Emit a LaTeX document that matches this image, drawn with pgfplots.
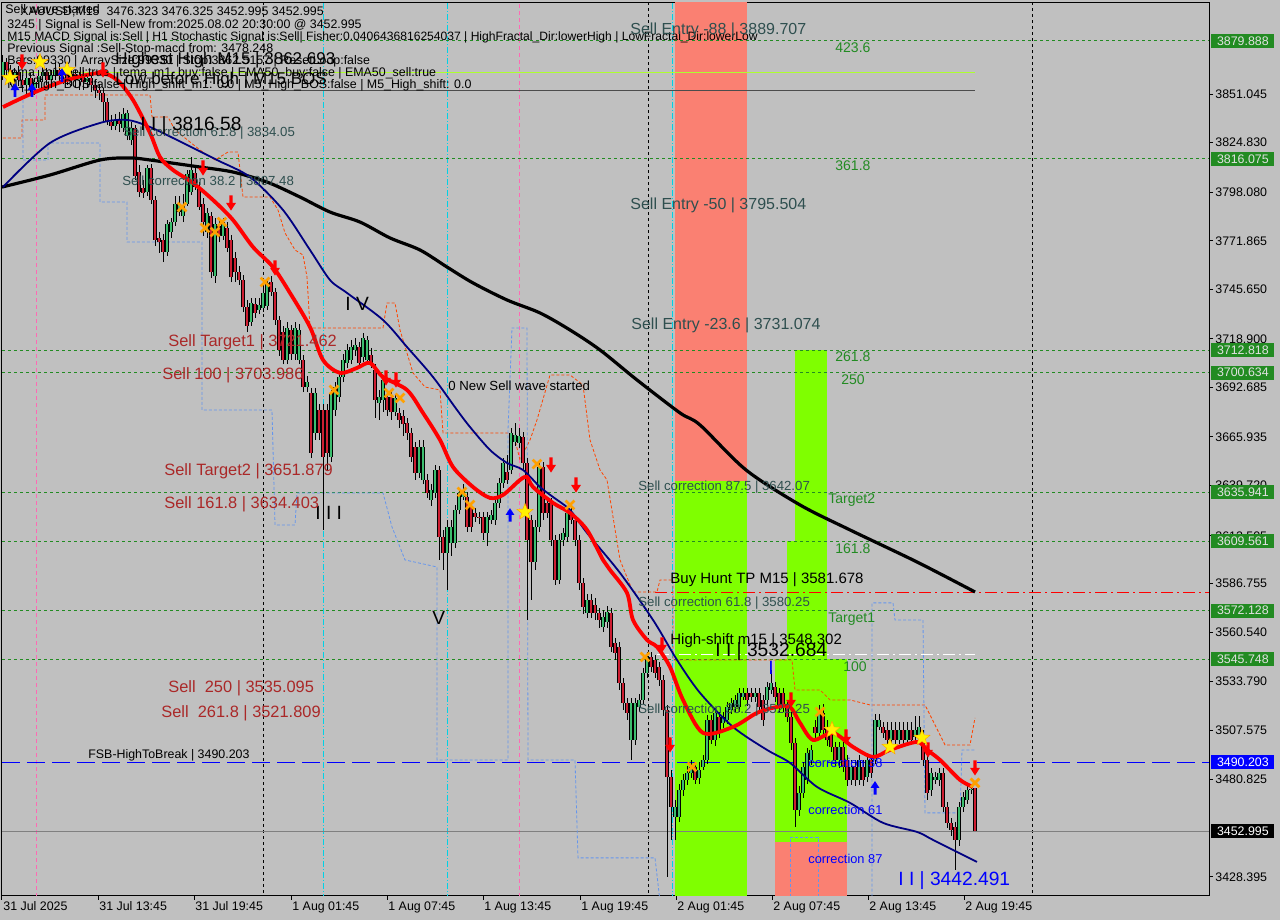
\documentclass[border=0pt]{standalone}
\usepackage{fontspec}
\setmainfont{Liberation Sans}
\usepackage{pgfplots}
\pgfplotsset{compat=1.18}
\usepackage{pgfplotstable}

\definecolor{bgc}{RGB}{192,192,192}
\definecolor{salm}{RGB}{250,128,114}
\definecolor{lgr}{RGB}{127,255,0}
\definecolor{lvl}{RGB}{34,139,34}
\definecolor{boxg}{RGB}{34,139,34}
\definecolor{boxt}{RGB}{225,225,225}
\definecolor{slate}{RGB}{47,79,79}
\definecolor{brn}{RGB}{170,40,40}
\definecolor{numg}{RGB}{34,139,34}
\definecolor{bull}{RGB}{60,190,110}
\definecolor{bear}{RGB}{205,30,50}
\definecolor{orng}{RGB}{255,160,0}
\definecolor{ored}{RGB}{255,69,0}
\definecolor{lblue}{RGB}{100,149,237}
\definecolor{navyc}{RGB}{0,0,128}
\definecolor{gyel}{RGB}{173,255,47}
\definecolor{pinkc}{RGB}{255,105,180}
\definecolor{cyanc}{RGB}{0,210,230}

\newcommand\tf{\fontsize{6.2}{7}\selectfont}

\pgfdeclareplotmark{darrow}{%
  \pgfpathmoveto{\pgfqpoint{-0.22\pgfplotmarksize}{\pgfplotmarksize}}%
  \pgfpathlineto{\pgfqpoint{0.22\pgfplotmarksize}{\pgfplotmarksize}}%
  \pgfpathlineto{\pgfqpoint{0.22\pgfplotmarksize}{0pt}}%
  \pgfpathlineto{\pgfqpoint{0.65\pgfplotmarksize}{0pt}}%
  \pgfpathlineto{\pgfqpoint{0pt}{-\pgfplotmarksize}}%
  \pgfpathlineto{\pgfqpoint{-0.65\pgfplotmarksize}{0pt}}%
  \pgfpathlineto{\pgfqpoint{-0.22\pgfplotmarksize}{0pt}}%
  \pgfpathclose\pgfusepathqfill}
\pgfdeclareplotmark{uarrow}{%
  \pgfpathmoveto{\pgfqpoint{-0.22\pgfplotmarksize}{-\pgfplotmarksize}}%
  \pgfpathlineto{\pgfqpoint{0.22\pgfplotmarksize}{-\pgfplotmarksize}}%
  \pgfpathlineto{\pgfqpoint{0.22\pgfplotmarksize}{0pt}}%
  \pgfpathlineto{\pgfqpoint{0.65\pgfplotmarksize}{0pt}}%
  \pgfpathlineto{\pgfqpoint{0pt}{\pgfplotmarksize}}%
  \pgfpathlineto{\pgfqpoint{-0.65\pgfplotmarksize}{0pt}}%
  \pgfpathlineto{\pgfqpoint{-0.22\pgfplotmarksize}{0pt}}%
  \pgfpathclose\pgfusepathqfill}
\pgfdeclareplotmark{fstar}{%
  \pgfpathmoveto{\pgfqpointpolar{90}{\pgfplotmarksize}}%
  \pgfpathlineto{\pgfqpointpolar{126}{0.42\pgfplotmarksize}}%
  \pgfpathlineto{\pgfqpointpolar{162}{\pgfplotmarksize}}%
  \pgfpathlineto{\pgfqpointpolar{198}{0.42\pgfplotmarksize}}%
  \pgfpathlineto{\pgfqpointpolar{234}{\pgfplotmarksize}}%
  \pgfpathlineto{\pgfqpointpolar{270}{0.42\pgfplotmarksize}}%
  \pgfpathlineto{\pgfqpointpolar{306}{\pgfplotmarksize}}%
  \pgfpathlineto{\pgfqpointpolar{342}{0.42\pgfplotmarksize}}%
  \pgfpathlineto{\pgfqpointpolar{18}{\pgfplotmarksize}}%
  \pgfpathlineto{\pgfqpointpolar{54}{0.42\pgfplotmarksize}}%
  \pgfpathclose\pgfusepathqfillstroke}

% x = chart pixel column (4 px = one M15 candle), o h l c = prices
\pgfplotstableread{
x o h l c
3 3861.4 3872.2 3858.7 3868.4
7 3868.4 3870.6 3859.8 3864.1
11 3864.1 3866.8 3856.0 3859.8
15 3859.8 3865.2 3856.5 3863.0
19 3863.0 3866.3 3855.5 3858.7
23 3858.7 3861.4 3852.2 3856.0
27 3856.0 3861.9 3850.6 3859.8
31 3859.8 3862.5 3851.7 3854.4
35 3854.4 3859.8 3850.6 3857.6
39 3857.6 3864.1 3854.4 3860.9
43 3860.9 3866.3 3857.6 3863.0
47 3863.0 3865.2 3856.0 3858.7
51 3858.7 3864.1 3855.5 3861.4
55 3861.4 3868.4 3858.7 3864.1
59 3864.1 3867.3 3857.6 3860.9
63 3860.9 3865.2 3856.5 3863.0
67 3863.0 3866.3 3856.0 3859.8
71 3859.8 3864.1 3855.5 3861.9
75 3861.9 3864.1 3854.4 3858.7
79 3858.7 3863.0 3853.3 3860.9
83 3860.9 3864.1 3853.3 3857.6
87 3857.6 3861.9 3854.4 3859.8
91 3859.8 3863.0 3852.2 3856.0
95 3856.0 3858.7 3849.0 3853.3
99 3853.3 3856.5 3847.9 3851.7
103 3851.7 3854.4 3836.0 3846.8
107 3846.8 3849.0 3834.4 3836.0
111 3836.0 3839.8 3831.7 3833.9
115 3833.9 3840.3 3831.7 3837.1
119 3837.1 3841.4 3830.6 3834.9
123 3832.8 3843.6 3830.6 3840.3
127 3828.5 3842.5 3826.3 3840.9
131 3826.3 3836.0 3823.6 3832.8
135 3832.8 3834.4 3804.7 3806.9
139 3809.0 3812.8 3795.5 3798.2
143 3800.4 3804.7 3795.0 3797.7
147 3798.2 3812.8 3796.1 3811.2
151 3811.2 3813.3 3791.7 3793.9
155 3793.9 3796.1 3769.1 3772.3
159 3773.4 3776.6 3765.3 3771.2
163 3772.3 3775.5 3760.4 3765.8
167 3765.8 3783.1 3763.7 3780.9
171 3776.6 3784.2 3773.4 3782.0
175 3782.0 3796.1 3779.9 3791.7
179 3787.4 3796.1 3785.3 3791.7
183 3785.3 3797.1 3782.0 3790.7
187 3791.7 3810.1 3790.7 3807.9
191 3798.2 3817.1 3796.6 3810.1
195 3808.5 3812.3 3799.3 3800.9
199 3800.9 3803.6 3788.5 3790.1
203 3791.7 3795.0 3774.5 3782.0
207 3776.6 3789.6 3773.4 3786.9
211 3785.3 3787.4 3751.8 3755.0
215 3752.9 3784.2 3749.1 3780.9
219 3779.9 3783.1 3771.2 3774.5
223 3774.5 3784.2 3772.3 3782.0
227 3778.8 3782.0 3765.8 3768.0
231 3772.3 3775.0 3749.6 3752.3
235 3762.6 3765.8 3749.6 3755.0
239 3755.0 3758.3 3748.0 3750.7
243 3750.7 3753.4 3733.4 3736.1
247 3736.1 3739.9 3722.6 3725.9
251 3728.0 3741.0 3725.9 3738.3
255 3737.7 3741.0 3730.2 3732.9
259 3734.5 3741.0 3732.3 3737.2
263 3735.6 3747.5 3733.4 3743.7
267 3736.7 3751.8 3734.5 3749.1
271 3749.6 3752.9 3742.1 3744.2
275 3744.2 3746.4 3726.4 3729.1
279 3729.1 3731.3 3709.7 3712.9
283 3722.6 3725.9 3705.3 3707.5
287 3707.5 3728.0 3705.3 3724.8
291 3723.7 3726.4 3707.5 3710.7
295 3710.7 3728.0 3707.5 3724.8
299 3707.5 3726.9 3705.3 3723.7
303 3707.5 3710.2 3690.2 3692.9
307 3692.9 3698.9 3690.2 3695.6
311 3689.7 3692.4 3654.6 3657.3
315 3668.1 3692.4 3664.3 3689.7
319 3680.5 3683.7 3664.3 3668.1
323 3680.5 3683.7 3615.7 3655.1
327 3680.5 3683.7 3648.1 3657.3
331 3655.1 3691.3 3652.4 3689.7
335 3680.5 3695.6 3677.3 3692.9
339 3687.5 3701.0 3684.8 3698.3
343 3698.3 3710.7 3695.6 3707.5
347 3705.9 3716.1 3703.2 3712.9
351 3707.5 3718.3 3705.3 3714.5
355 3712.9 3719.4 3709.7 3715.6
359 3714.5 3717.2 3703.2 3705.9
363 3709.1 3722.1 3706.4 3719.4
367 3707.5 3720.5 3705.3 3718.3
371 3710.2 3714.0 3703.2 3705.9
375 3702.1 3705.3 3676.2 3685.9
379 3684.3 3691.3 3675.1 3687.5
383 3685.9 3699.4 3679.4 3696.7
387 3687.5 3691.3 3677.3 3680.5
391 3687.5 3690.2 3675.1 3679.4
395 3679.4 3689.1 3677.3 3687.0
399 3678.9 3681.6 3670.8 3675.1
403 3677.3 3680.5 3666.5 3672.9
407 3673.5 3676.2 3664.3 3668.1
411 3668.1 3670.8 3652.4 3655.1
415 3660.5 3663.2 3642.7 3646.5
419 3646.5 3664.3 3643.8 3660.5
423 3642.7 3664.3 3640.5 3660.5
427 3642.7 3645.9 3633.0 3635.7
431 3631.9 3640.5 3628.7 3637.3
435 3635.7 3650.8 3633.0 3648.1
439 3648.1 3650.3 3599.5 3611.9
443 3611.9 3615.7 3594.1 3603.3
447 3603.3 3621.1 3583.3 3617.3
451 3608.7 3621.1 3601.7 3617.3
455 3608.7 3629.2 3606.0 3626.5
459 3626.5 3638.4 3624.3 3635.7
463 3633.5 3640.5 3631.9 3637.3
467 3633.5 3636.2 3614.6 3617.3
471 3628.1 3630.8 3614.6 3617.3
475 3624.9 3627.6 3620.0 3622.7
479 3622.7 3625.4 3618.9 3622.2
483 3622.7 3625.4 3610.3 3614.1
487 3614.1 3625.4 3607.1 3622.7
491 3621.1 3626.5 3618.9 3623.8
495 3621.1 3633.0 3618.4 3630.3
499 3630.3 3643.8 3627.6 3641.1
503 3641.1 3654.6 3638.4 3651.9
507 3647.0 3656.2 3640.5 3642.7
511 3648.1 3670.8 3645.9 3668.1
515 3663.2 3673.5 3661.1 3667.0
519 3662.7 3670.8 3660.0 3666.5
523 3665.9 3668.6 3648.1 3651.9
527 3651.9 3654.6 3567.1 3610.3
531 3621.1 3623.8 3577.9 3598.4
535 3598.4 3621.1 3594.1 3617.3
539 3617.3 3652.4 3614.6 3649.7
543 3649.7 3652.4 3621.1 3624.9
547 3630.3 3633.0 3622.2 3624.9
551 3630.3 3633.0 3607.1 3610.3
555 3610.3 3613.0 3586.0 3588.7
559 3588.7 3613.5 3586.5 3610.3
563 3610.3 3616.8 3607.1 3614.1
567 3611.9 3627.6 3609.2 3624.9
571 3624.9 3627.6 3618.9 3621.1
575 3621.1 3623.8 3607.1 3610.3
579 3610.3 3613.0 3583.3 3587.1
583 3587.1 3589.8 3570.3 3574.1
587 3570.9 3581.1 3568.2 3577.9
591 3577.9 3581.1 3568.2 3570.9
595 3575.2 3579.0 3567.1 3570.9
599 3570.9 3573.6 3562.8 3567.1
603 3563.3 3572.5 3560.6 3568.7
607 3566.0 3574.7 3562.8 3571.4
611 3570.9 3573.6 3549.8 3552.5
615 3554.7 3557.4 3545.5 3549.3
619 3552.5 3555.2 3529.3 3533.1
623 3533.1 3535.8 3518.5 3522.3
627 3522.3 3525.0 3513.1 3516.9
631 3502.3 3525.0 3491.5 3522.3
635 3502.3 3525.0 3499.6 3522.3
639 3520.1 3527.1 3517.4 3523.9
643 3523.9 3541.2 3521.7 3538.5
647 3538.5 3549.8 3535.8 3547.1
651 3547.1 3549.8 3539.0 3541.7
655 3545.5 3548.2 3535.8 3538.5
659 3541.7 3544.4 3531.5 3534.7
663 3534.7 3537.4 3515.3 3518.5
667 3518.5 3521.2 3428.3 3482.3
671 3482.3 3486.1 3448.3 3466.1
675 3460.7 3469.9 3448.3 3466.1
679 3460.7 3478.5 3458.0 3475.3
683 3475.3 3483.9 3472.1 3480.7
687 3480.7 3488.3 3478.0 3484.5
691 3484.5 3491.5 3481.8 3487.7
695 3487.7 3490.4 3478.5 3480.7
699 3481.8 3490.4 3478.5 3486.1
703 3487.7 3494.2 3486.1 3491.5
707 3491.5 3515.8 3489.3 3513.1
711 3513.1 3515.8 3500.1 3502.3
715 3502.3 3519.6 3499.1 3516.9
719 3514.7 3517.4 3503.4 3506.1
723 3511.5 3517.4 3508.8 3514.7
727 3513.1 3522.8 3510.9 3520.1
731 3518.5 3525.0 3516.3 3522.3
735 3520.1 3526.6 3517.4 3523.9
739 3520.1 3530.4 3517.4 3527.7
743 3525.5 3530.4 3523.9 3527.7
747 3527.7 3530.4 3520.7 3523.9
751 3527.7 3530.4 3522.8 3525.5
755 3525.5 3530.4 3522.8 3527.7
759 3527.7 3530.4 3517.4 3520.1
763 3523.9 3526.6 3509.9 3513.1
767 3523.9 3533.6 3520.7 3530.9
771 3529.3 3540.1 3527.1 3533.1
775 3530.9 3533.6 3522.8 3525.5
779 3527.7 3530.4 3517.4 3520.1
783 3527.7 3530.4 3517.4 3520.1
787 3520.1 3522.8 3512.0 3514.7
791 3514.7 3517.4 3496.9 3500.7
795 3500.7 3503.4 3455.3 3464.5
799 3464.5 3477.5 3461.3 3473.7
803 3473.7 3490.4 3471.0 3487.7
807 3480.7 3498.0 3478.5 3495.3
811 3491.5 3499.6 3488.8 3496.9
815 3509.3 3513.1 3502.3 3506.1
819 3506.1 3521.2 3503.4 3516.9
823 3516.9 3521.7 3505.0 3507.7
827 3509.3 3513.1 3499.1 3502.3
831 3506.1 3508.8 3495.8 3498.5
835 3498.5 3501.2 3488.3 3491.5
839 3491.5 3501.2 3487.2 3498.5
843 3498.5 3501.2 3485.0 3487.7
847 3491.5 3494.2 3477.5 3480.7
851 3480.7 3491.5 3478.0 3487.7
855 3487.7 3491.5 3477.5 3480.7
859 3480.7 3494.2 3478.0 3491.5
863 3487.7 3491.5 3477.5 3480.7
867 3482.3 3494.2 3479.6 3491.5
871 3491.5 3494.2 3481.8 3484.5
875 3491.5 3516.3 3489.3 3513.1
879 3509.3 3516.3 3507.7 3513.1
883 3509.3 3512.0 3503.4 3506.1
887 3507.7 3512.0 3500.1 3502.3
891 3502.3 3512.0 3500.1 3507.7
895 3507.7 3512.0 3499.1 3502.3
899 3502.3 3512.0 3500.1 3507.7
903 3507.7 3512.0 3500.1 3502.3
907 3502.3 3512.0 3500.1 3507.7
911 3507.7 3512.0 3500.1 3502.3
915 3503.9 3515.3 3501.2 3507.7
919 3503.9 3515.3 3501.2 3509.3
923 3503.9 3507.7 3488.3 3491.5
927 3491.5 3494.2 3469.9 3473.7
931 3475.3 3487.2 3472.1 3484.5
935 3480.7 3485.0 3478.5 3482.3
939 3480.7 3487.2 3477.5 3484.5
943 3484.5 3487.2 3463.4 3466.1
947 3466.1 3468.8 3454.8 3457.5
951 3457.5 3460.2 3450.5 3453.7
955 3455.3 3458.0 3432.1 3448.3
959 3448.3 3468.8 3445.1 3466.1
963 3466.1 3474.2 3463.4 3471.5
967 3469.9 3478.0 3467.7 3475.3
971 3475.3 3478.5 3473.1 3475.8
975 3476.3 3476.3 3453.0 3453.0
}\candles

\begin{document}
\begin{tikzpicture}
\fill[bgc] (0,0) rectangle (640pt,460pt);
\begin{axis}[
  at={(1pt,12pt)}, anchor=south west,
  scale only axis, width=603.5pt, height=446.5pt,
  xmin=2, xmax=1209, ymin=3418.0, ymax=3900.3,
  axis line style={black, line width=0.5pt},
  tick style={black, line width=0.5pt},
  tick align=outside, major tick length=2pt,
  xtick pos=bottom, ytick pos=right, yticklabel pos=right,
  tick label style={font=\tf},
  xtick={2,98,194,291,387,483,580,676,772,868,964},
  xticklabels={31 Jul 2025,31 Jul 13:45,31 Jul 19:45,1 Aug 01:45,1 Aug 07:45,1 Aug 13:45,1 Aug 19:45,2 Aug 01:45,2 Aug 07:45,2 Aug 13:45,2 Aug 19:45},
  xticklabel style={anchor=north west, inner sep=0.5pt, xshift=0pt},
  ytick={3851.045,3824.830,3798.080,3771.865,3745.650,3718.900,3692.685,3665.935,3639.720,3612.505,3586.755,3560.540,3533.790,3507.575,3480.825,3428.395},
  yticklabels={3851.045,3824.830,3798.080,3771.865,3745.650,3718.900,3692.685,3665.935,3639.720,3612.505,3586.755,3560.540,3533.790,3507.575,3480.825,3428.395},
  yticklabel style={anchor=west, inner sep=0.5pt, xshift=0.5pt},
  every axis plot/.append style={forget plot},
]
% zones
\addplot[fill=salm, draw=none] coordinates {(675,3642.07)(747,3642.07)(747,3905)(675,3905)};
\addplot[fill=lgr, draw=none] coordinates {(675,3410)(747,3410)(747,3642.07)(675,3642.07)};
\addplot[fill=lgr, draw=none] coordinates {(795,3609.561)(827,3609.561)(827,3712.818)(795,3712.818)};
\addplot[fill=lgr, draw=none] coordinates {(787,3545.748)(827,3545.748)(827,3609.561)(787,3609.561)};
\addplot[fill=lgr, draw=none] coordinates {(775,3447.2)(847,3447.2)(847,3545.748)(775,3545.748)};
\addplot[fill=salm, draw=none] coordinates {(775,3410)(847,3410)(847,3447.2)(775,3447.2)};
% vertical separators
\addplot[black, dash pattern=on 1.5pt off 1.5pt, line width=0.45pt] coordinates {(263,3410)(263,3905)};
\addplot[black, dash pattern=on 1.5pt off 1.5pt, line width=0.45pt] coordinates {(648,3410)(648,3905)};
\addplot[black, dash pattern=on 1.5pt off 1.5pt, line width=0.45pt] coordinates {(1032,3410)(1032,3905)};
\addplot[cyanc, dash pattern=on 3pt off 1pt on 0.5pt off 1pt, line width=0.4pt] coordinates {(323,3410)(323,3905)};
\addplot[cyanc, dash pattern=on 3pt off 1pt on 0.5pt off 1pt, line width=0.4pt] coordinates {(447,3410)(447,3905)};
\addplot[cyanc, dash pattern=on 3pt off 1pt on 0.5pt off 1pt, line width=0.4pt] coordinates {(672,3410)(672,3905)};
\addplot[pinkc, dash pattern=on 2pt off 1.5pt, line width=0.4pt] coordinates {(36,3410)(36,3905)};
\addplot[pinkc, dash pattern=on 2pt off 1.5pt, line width=0.4pt] coordinates {(519,3410)(519,3905)};
% horizontal levels
\foreach \lv in {3879.888,3816.075,3712.818,3700.634,3635.941,3609.561,3572.128,3545.748}{
  \edef\tmp{\noexpand\addplot[lvl, dash pattern=on 1.5pt off 1.5pt, line width=0.45pt] coordinates {(2,\lv)(1209,\lv)};}\tmp
}
\addplot[draw=blue, dash pattern=on 9pt off 3.5pt, line width=0.6pt] coordinates {(2,3490.203)(1209,3490.203)};
\addplot[gray, line width=0.5pt] coordinates {(2,3452.995)(1209,3452.995)};
\addplot[red, dash pattern=on 6pt off 2pt on 1pt off 2pt, line width=0.5pt] coordinates {(655,3581.678)(1209,3581.678)};
\addplot[white, dash pattern=on 6pt off 2pt on 1pt off 2pt, line width=0.5pt] coordinates {(657,3548.302)(975,3548.302)};
\addplot[gyel, line width=0.6pt] coordinates {(2,3862.693)(975,3862.693)};
\addplot[black!70, line width=0.45pt] coordinates {(93,3852.8)(975,3852.8)};
% step channels
\addplot[ored, dash pattern=on 1.5pt off 1pt, line width=0.4pt] coordinates {
(3,3827.4)(22,3827.4)(22,3837.1)(45,3837.1)(45,3850.6)(150,3850.6)(152,3838.7)(168,3838.7)(175,3831.7)(200,3820.9)(215,3815.5)(228,3819.8)(238,3819.8)(243,3795.5)(270,3795.5)(278,3788.5)(285,3776.1)(295,3766.9)(303,3764.2)(307,3752.3)(310,3724.8)(383,3724.8)(387,3738.3)(395,3738.3)(400,3723.7)(413,3700.5)(425,3692.9)(440,3691.3)(443,3668.1)(508,3668.1)(515,3664.3)(520,3653.5)(530,3664.3)(537,3675.1)(550,3699.4)(570,3699.4)(583,3694.0)(590,3664.3)(600,3648.1)(607,3642.7)(620,3599.5)(633,3582.2)(657,3582.2)(660,3588.7)(673,3588.7)(673,3545.5)(792,3545.5)(795,3529.3)(820,3529.3)(830,3523.9)(850,3523.9)(870,3521.2)(925,3521.2)(945,3499.6)(970,3499.6)(975,3514.2)};
\addplot[lblue, dash pattern=on 1.5pt off 1pt, line width=0.4pt] coordinates {
(3,3864.1)(23,3864.1)(23,3815.5)(48,3815.5)(48,3824.7)(100,3824.7)(100,3792.8)(127,3792.8)(127,3771.2)(202,3771.2)(202,3680.5)(272,3680.5)(275,3618.4)(295,3618.4)(297,3635.7)(383,3635.7)(392,3617.3)(405,3599.5)(437,3595.7)(437,3491.5)(508,3491.5)(508,3669.7)(512,3724.8)(527,3724.8)(528,3491.5)(575,3491.5)(578,3438.6)(655,3438.6)(660,3415)};
\addplot[lblue, dash pattern=on 1.5pt off 1pt, line width=0.4pt] coordinates {
(872,3415)(872,3576.3)(893,3576.3)(895,3567.1)(923,3567.1)(925,3462.9)(960,3462.9)(962,3496.9)(975,3496.9)};
\addplot[lblue, dash pattern=on 1.5pt off 1pt, line width=0.4pt] coordinates {(790,3415)(790,3449.9)(818,3449.9)(818,3415)};
% candles: wicks
\addplot[draw=none, mark=none, error bars/.cd, y dir=plus, y explicit, error mark=none,
  error bar style={draw=black, line width=0.5pt}]
  table[x=x, y=l, y error expr={\thisrow{h}-\thisrow{l}}] {\candles};
% bodies outline
\addplot[draw=none, mark=none, error bars/.cd, y dir=plus, y explicit, error mark=none,
  error bar style={draw=black, line width=1.75pt}]
  table[x=x, y expr={min(\thisrow{o},\thisrow{c})}, y error expr={abs(\thisrow{c}-\thisrow{o})}] {\candles};
% bull bodies
\addplot[draw=none, mark=none, restrict expr to domain={\thisrow{c}-\thisrow{o}}{0.05:1000},
  error bars/.cd, y dir=plus, y explicit, error mark=none,
  error bar style={draw=bull, line width=0.9pt}]
  table[x=x, y=o, y error expr={\thisrow{c}-\thisrow{o}}] {\candles};
% bear bodies
\addplot[draw=none, mark=none, restrict expr to domain={\thisrow{o}-\thisrow{c}}{0.05:1000},
  error bars/.cd, y dir=plus, y explicit, error mark=none,
  error bar style={draw=bear, line width=0.9pt}]
  table[x=x, y=c, y error expr={\thisrow{o}-\thisrow{c}}] {\candles};
% moving averages
\addplot[black, line width=1.6pt, smooth] coordinates {
(2,3800.9)(50,3807.4)(100,3815.5)(130,3816.6)(150,3815.5)(200,3811.7)(233,3809.0)(267,3803.6)(300,3795.5)(330,3787.4)(360,3782.0)(390,3773.4)(420,3766.9)(447,3757.7)(473,3749.1)(507,3739.9)(540,3732.9)(570,3723.7)(600,3712.9)(637,3696.7)(680,3678.9)(700,3672.4)(746,3648.1)(800,3629.2)(850,3615.7)(917,3598.4)(975,3582.2)};
\addplot[navyc, line width=0.9pt, smooth] coordinates {
(3,3800.9)(50,3824.7)(100,3835.5)(127,3837.1)(150,3833.3)(183,3824.7)(217,3815.5)(250,3806.3)(283,3788.5)(310,3766.9)(330,3750.7)(347,3743.7)(383,3729.1)(407,3714.5)(433,3698.3)(457,3680.5)(470,3671.3)(490,3658.9)(507,3651.9)(523,3648.1)(540,3638.9)(553,3633.5)(570,3626.5)(587,3614.1)(620,3592.5)(653,3567.1)(677,3545.5)(700,3527.7)(733,3509.3)(767,3496.9)(790,3489.9)(817,3476.9)(850,3468.3)(883,3457.5)(917,3452.6)(933,3448.3)(977,3436.4)};
\addplot[red, line width=1.9pt, smooth] coordinates {
(3,3844.1)(33,3851.7)(67,3858.7)(100,3862.5)(117,3858.7)(133,3847.9)(150,3830.1)(160,3817.1)(173,3810.1)(193,3803.1)(213,3793.9)(233,3783.1)(253,3768.5)(273,3757.7)(290,3743.7)(310,3725.3)(323,3707.5)(340,3700.5)(357,3703.2)(370,3705.9)(383,3698.3)(407,3691.3)(423,3678.9)(440,3664.3)(453,3649.7)(473,3638.9)(490,3633.0)(503,3634.6)(520,3642.7)(527,3644.3)(533,3638.9)(553,3630.3)(570,3624.9)(587,3615.7)(603,3599.5)(610,3594.1)(627,3581.7)(633,3567.1)(647,3556.3)(657,3552.5)(670,3541.7)(683,3523.9)(703,3506.1)(733,3509.3)(757,3516.9)(777,3520.1)(790,3520.1)(800,3511.5)(813,3502.3)(833,3506.1)(853,3498.5)(873,3493.1)(890,3496.9)(917,3501.2)(927,3496.9)(940,3491.5)(960,3480.7)(973,3476.9)};
% signal markers
\addplot[only marks, mark=darrow, mark size=3.8pt, red] coordinates {
(22,3868.4)(103,3864.1)(203,3811.2)(231,3792.3)(275,3757.2)(386,3697.8)(396,3696.7)(551,3650.8)(576,3640.0)(662,3553.6)(670,3499.6)(791,3523.9)(846,3503.9)(928,3496.9)(975,3487.2)};
\addplot[only marks, mark=x, mark size=3.1pt, orng, line width=1.35pt] coordinates {
(182,3790.1)(205,3778.8)(215,3776.6)(222,3782.0)(265,3749.6)(334,3691.3)(389,3689.7)(400,3687.0)(462,3636.2)(470,3629.2)(537,3651.3)(570,3629.2)(645,3547.1)(692,3487.7)(820,3517.4)(975,3479.1)};
\addplot[only marks, mark=fstar, mark size=4.3pt, fill=yellow, draw=orng, line width=0.2pt] coordinates {
(525,3625.4)(832,3507.7)(890,3498.5)(922,3503.4)(10,3859.8)(40,3868.4)(67,3864.1)};
\addplot[only marks, mark=uarrow, mark size=3.4pt, blue] coordinates {
(510,3623.8)(875,3476.4)(15,3853.3)(32,3853.3)(62,3861.4)};
% texts
\begin{scope}[every node/.style={anchor=west, inner sep=0pt}]
\node[font=\tf] at (axis cs:5,3897.0) {Sell wave started};
\node[font=\tf] at (axis cs:20,3895.4) {XAUUSD,M15\ \ 3476.323 3476.325 3452.995 3452.995};
\node[font=\tf] at (axis cs:7,3888.4) {3245 | Signal is Sell-New from:2025.08.02 20:30:00 @ 3452.995};
\node[font=\fontsize{6.05}{7}\selectfont] at (axis cs:7,3881.9) {M15 MACD Signal is:Sell | H1 Stochastic Signal is:Sell| Fisher:0.0406436816254037 | HighFractal\_Dir:lowerHigh | LowFractal\_Dir:lowerLow};
\node[font=\tf] at (axis cs:7,3875.4) {Previous Signal :Sell-Stop-macd from: 3478.248};
\node[font=\tf] at (axis cs:7,3869.0) {Bars:99330 | ArraySize:99330 | Stop:3862.5157 | ResetLoop:false};
\node[font=\tf] at (axis cs:7,3862.5) {tema\_m1\_sell:true | tema\_m1\_buy:false | EMA50\_buy:false | EMA50\_sell:true};
\node[font=\tf] at (axis cs:7,3856.0) {M1\_High\_BOS:false | High\_shift\_m1: 0.0 | M5\_High\_BOS:false | M5\_High\_shift: 0.0};
\node[font=\fontsize{8.5}{9}\selectfont] at (axis cs:115,3869.5) {Highest High M15 | 3862.693};
\node[font=\fontsize{8.5}{9}\selectfont] at (axis cs:115,3858.7) {Low before High | M15 BOS};
\node[font=\fontsize{8}{9}\selectfont, text=slate] at (axis cs:630,3885.7) {Sell Entry -88 | 3889.707};
\node[font=\fontsize{8}{9}\selectfont, text=slate] at (axis cs:630,3791.2) {Sell Entry -50 | 3795.504};
\node[font=\fontsize{8}{9}\selectfont, text=slate] at (axis cs:631,3726.4) {Sell Entry -23.6 | 3731.074};
\node[font=\fontsize{7}{8}\selectfont, text=numg] at (axis cs:835,3876.0) {423.6};
\node[font=\fontsize{7}{8}\selectfont, text=numg] at (axis cs:835,3812.3) {361.8};
\node[font=\fontsize{7}{8}\selectfont, text=numg] at (axis cs:835,3709.1) {261.8};
\node[font=\fontsize{7}{8}\selectfont, text=numg] at (axis cs:841,3696.7) {250};
\node[font=\fontsize{7}{8}\selectfont, text=numg] at (axis cs:828,3631.9) {Target2};
\node[font=\fontsize{7}{8}\selectfont, text=numg] at (axis cs:835,3605.4) {161.8};
\node[font=\fontsize{7}{8}\selectfont, text=numg] at (axis cs:828,3567.6) {Target1};
\node[font=\fontsize{7}{8}\selectfont, text=numg] at (axis cs:843,3541.7) {100};
\node[font=\fontsize{6.6}{8}\selectfont, text=slate] at (axis cs:638,3638.9) {Sell correction 87.5 | 3642.07};
\node[font=\fontsize{6.6}{8}\selectfont, text=slate] at (axis cs:638,3576.3) {Sell correction 61.8 | 3580.25};
\node[font=\fontsize{6.6}{8}\selectfont, text=slate] at (axis cs:638,3518.5) {Sell correction 38.2 | 3522.25};
\node[font=\fontsize{6.6}{8}\selectfont, text=slate] at (axis cs:123,3830.1) {Sell correction 61.8 | 3834.05};
\node[font=\fontsize{6.6}{8}\selectfont, text=slate] at (axis cs:122,3803.6) {Sell correction 38.2 | 3807.48};
\node[font=\fontsize{7.5}{9}\selectfont] at (axis cs:670,3588.7) {Buy Hunt TP M15 | 3581.678};
\node[font=\fontsize{7.5}{9}\selectfont] at (axis cs:670,3555.8) {High-shift m15 | 3548.302};
\node[font=\fontsize{9.6}{11}\selectfont] at (axis cs:715,3549.8) {I I | 3532.684};
\node[font=\fontsize{9.6}{11}\selectfont] at (axis cs:140,3833.9) {I I | 3816.58};
\node[font=\fontsize{9.6}{11}\selectfont] at (axis cs:345,3737.7) {I V};
\node[font=\fontsize{9.6}{11}\selectfont] at (axis cs:315,3624.9) {I I I};
\node[font=\fontsize{9.6}{11}\selectfont] at (axis cs:432,3568.2) {V};
\node[font=\fontsize{9.6}{11}\selectfont, text=blue] at (axis cs:768,3541.2) {I};
\node[font=\fontsize{9.6}{11}\selectfont, text=blue] at (axis cs:898,3426.2) {I I | 3442.491};
\node[font=\fontsize{6.4}{8}\selectfont, text=blue] at (axis cs:808,3489.9) {correction 38};
\node[font=\fontsize{6.4}{8}\selectfont, text=blue] at (axis cs:808,3464.5) {correction 61};
\node[font=\fontsize{6.4}{8}\selectfont, text=blue] at (axis cs:808,3438.0) {correction 87};
\node[font=\tf] at (axis cs:88,3494.2) {FSB-HighToBreak | 3490.203};
\node[font=\fontsize{6.6}{8}\selectfont] at (axis cs:448,3693.5) {0 New Sell wave started};
\node[font=\fontsize{8.2}{9}\selectfont, text=brn] at (axis cs:168,3717.2) {Sell Target1 | 3721.462};
\node[font=\fontsize{8.2}{9}\selectfont, text=brn] at (axis cs:162,3699.4) {Sell 100 | 3703.986};
\node[font=\fontsize{8.2}{9}\selectfont, text=brn] at (axis cs:164,3647.6) {Sell Target2 | 3651.879};
\node[font=\fontsize{8.2}{9}\selectfont, text=brn] at (axis cs:164,3629.7) {Sell 161.8 | 3634.403};
\node[font=\fontsize{8.2}{9}\selectfont, text=brn] at (axis cs:168,3530.4) {Sell\ \ 250 | 3535.095};
\node[font=\fontsize{8.2}{9}\selectfont, text=brn] at (axis cs:161,3516.9) {Sell\ \ 261.8 | 3521.809};
\end{scope}
% anchors for right-side price boxes
\coordinate (p1) at (axis cs:1209,3879.888);
\coordinate (p2) at (axis cs:1209,3816.075);
\coordinate (p3) at (axis cs:1209,3712.818);
\coordinate (p4) at (axis cs:1209,3700.634);
\coordinate (p5) at (axis cs:1209,3635.941);
\coordinate (p6) at (axis cs:1209,3609.561);
\coordinate (p7) at (axis cs:1209,3572.128);
\coordinate (p8) at (axis cs:1209,3545.748);
\coordinate (p9) at (axis cs:1209,3490.203);
\coordinate (p10) at (axis cs:1209,3452.995);
\end{axis}
\tikzset{pbox/.style={anchor=west, inner sep=0pt, minimum width=31.5pt, minimum height=7pt, font=\tf, xshift=1pt}}
\node[pbox, fill=boxg, text=boxt] at (p1) {3879.888};
\node[pbox, fill=boxg, text=boxt] at (p2) {3816.075};
\node[pbox, fill=boxg, text=boxt] at (p3) {3712.818};
\node[pbox, fill=boxg, text=boxt] at (p4) {3700.634};
\node[pbox, fill=boxg, text=boxt] at (p5) {3635.941};
\node[pbox, fill=boxg, text=boxt] at (p6) {3609.561};
\node[pbox, fill=boxg, text=boxt] at (p7) {3572.128};
\node[pbox, fill=boxg, text=boxt] at (p8) {3545.748};
\node[pbox, fill=blue, text=white] at (p9) {3490.203};
\node[pbox, fill=black, text=white] at (p10) {3452.995};
\end{tikzpicture}
\end{document}
